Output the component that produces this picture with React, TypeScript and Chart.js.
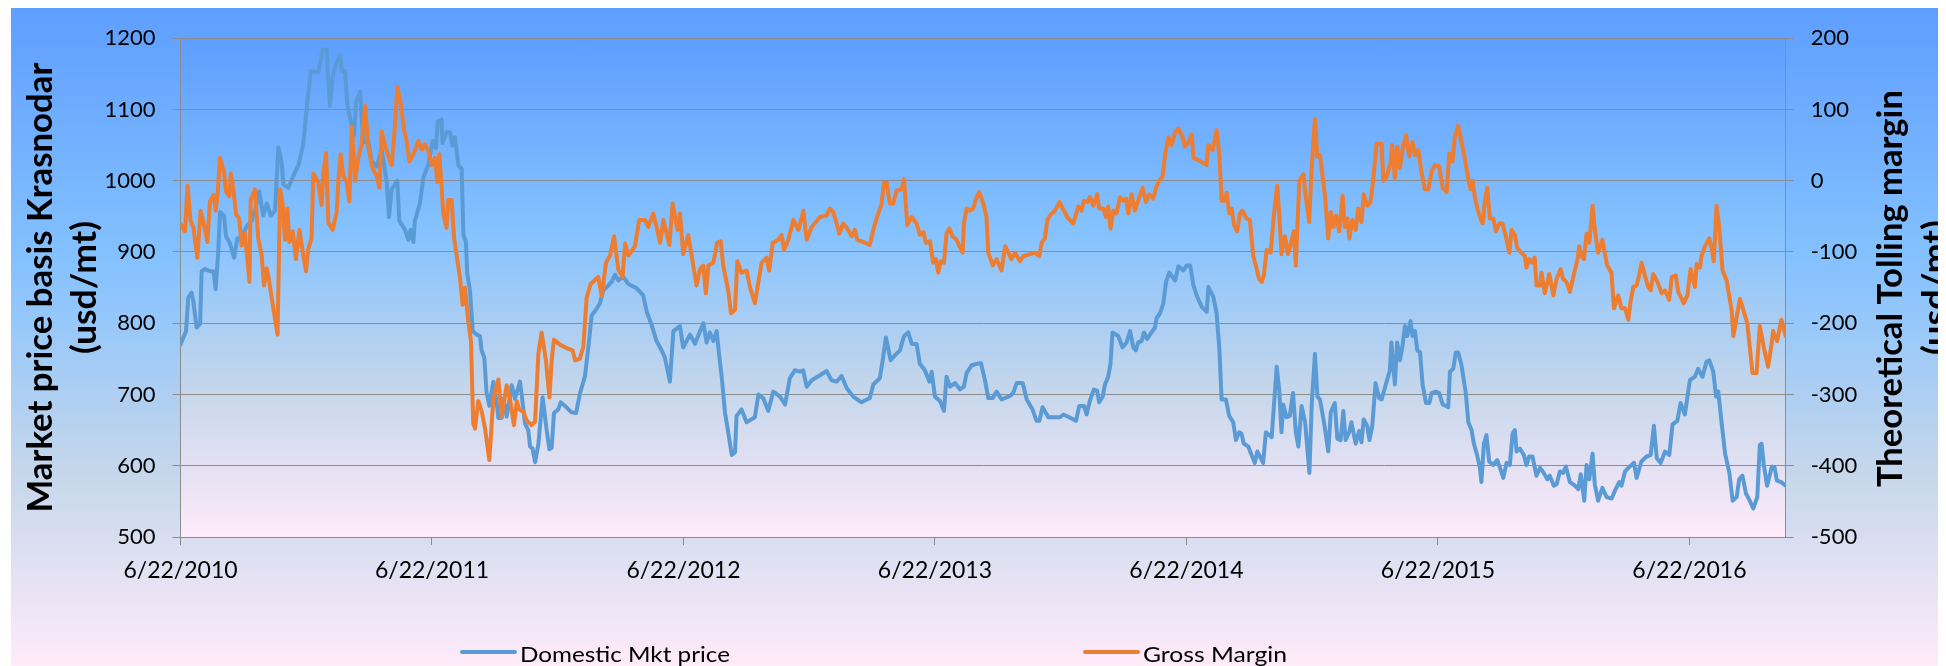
import React, { useEffect, useRef } from 'react';
import { Chart, registerables } from 'chart.js';

Chart.register(...registerables);

// ---- axis / labels ----
const tickYears = [0, 1, 2, 3, 4, 5, 6];
const tickLabels = ['6/22/2010', '6/22/2011', '6/22/2012', '6/22/2013', '6/22/2014', '6/22/2015', '6/22/2016'];
const xMaxYears = 6.383; // years after 6/22/2010 (about Nov 2016)
const seriesNames = ['Domestic Mkt price', 'Gross Margin'];
const leftTitle = ['Market price basis Krasnodar', '(usd/mt)'];
const rightTitle = ['Theoretical Tolling margin', '(usd/mt)'];

// ---- Domestic Mkt price (left axis, usd/mt); x = years since 6/22/2010 ----
const domesticYears = [
  0.000, 0.022, 0.031, 0.044, 0.051, 0.064, 0.078, 0.084, 0.097, 0.117, 0.131, 0.140, 0.150, 0.157, 0.173, 0.181,
  0.197, 0.213, 0.226, 0.243, 0.263, 0.283, 0.300, 0.313, 0.329, 0.343, 0.359, 0.376, 0.389, 0.402, 0.409, 0.429,
  0.449, 0.469, 0.488, 0.504, 0.518, 0.548, 0.565, 0.581, 0.594, 0.605, 0.618, 0.634, 0.641, 0.654, 0.663, 0.681,
  0.690, 0.698, 0.714, 0.727, 0.747, 0.760, 0.780, 0.800, 0.820, 0.829, 0.840, 0.862, 0.870, 0.893, 0.906, 0.915,
  0.926, 0.932, 0.952, 0.966, 0.985, 1.003, 1.016, 1.023, 1.038, 1.042, 1.058, 1.072, 1.081, 1.091, 1.105, 1.118,
  1.125, 1.135, 1.140, 1.151, 1.162, 1.178, 1.191, 1.197, 1.208, 1.217, 1.228, 1.244, 1.257, 1.264, 1.277, 1.284,
  1.297, 1.317, 1.330, 1.350, 1.357, 1.370, 1.383, 1.390, 1.400, 1.410, 1.423, 1.440, 1.456, 1.467, 1.476, 1.485,
  1.502, 1.512, 1.535, 1.555, 1.573, 1.588, 1.608, 1.622, 1.635, 1.652, 1.668, 1.681, 1.701, 1.714, 1.728, 1.741,
  1.761, 1.781, 1.814, 1.840, 1.854, 1.873, 1.893, 1.913, 1.926, 1.946, 1.960, 1.986, 1.999, 2.026, 2.046, 2.066,
  2.079, 2.092, 2.105, 2.119, 2.132, 2.142, 2.152, 2.165, 2.178, 2.192, 2.205, 2.211, 2.231, 2.251, 2.284, 2.298,
  2.317, 2.337, 2.357, 2.384, 2.404, 2.423, 2.443, 2.463, 2.476, 2.490, 2.510, 2.543, 2.569, 2.589, 2.609, 2.629,
  2.649, 2.675, 2.708, 2.741, 2.755, 2.781, 2.794, 2.805, 2.824, 2.841, 2.861, 2.877, 2.894, 2.908, 2.927, 2.940,
  2.960, 2.978, 2.987, 3.000, 3.020, 3.036, 3.046, 3.060, 3.080, 3.100, 3.115, 3.126, 3.146, 3.166, 3.183, 3.199,
  3.212, 3.230, 3.245, 3.265, 3.299, 3.311, 3.325, 3.349, 3.365, 3.388, 3.404, 3.415, 3.428, 3.451, 3.477, 3.497,
  3.511, 3.534, 3.561, 3.574, 3.593, 3.603, 3.616, 3.632, 3.645, 3.653, 3.667, 3.676, 3.689, 3.698, 3.706, 3.729,
  3.746, 3.762, 3.776, 3.789, 3.799, 3.808, 3.822, 3.831, 3.844, 3.855, 3.875, 3.881, 3.895, 3.908, 3.919, 3.932,
  3.955, 3.968, 3.988, 4.001, 4.015, 4.028, 4.043, 4.061, 4.081, 4.087, 4.107, 4.120, 4.131, 4.140, 4.157, 4.170,
  4.186, 4.197, 4.210, 4.219, 4.228, 4.246, 4.259, 4.272, 4.282, 4.295, 4.305, 4.316, 4.339, 4.359, 4.369, 4.378,
  4.385, 4.398, 4.411, 4.424, 4.435, 4.445, 4.458, 4.472, 4.489, 4.498, 4.511, 4.521, 4.531, 4.547, 4.564, 4.574,
  4.590, 4.600, 4.613, 4.624, 4.633, 4.647, 4.656, 4.673, 4.687, 4.696, 4.705, 4.719, 4.728, 4.739, 4.752, 4.766,
  4.776, 4.809, 4.815, 4.829, 4.838, 4.849, 4.859, 4.869, 4.878, 4.891, 4.899, 4.909, 4.918, 4.929, 4.939, 4.953,
  4.966, 4.975, 4.992, 5.005, 5.019, 5.032, 5.041, 5.048, 5.061, 5.071, 5.081, 5.094, 5.103, 5.111, 5.121, 5.134,
  5.143, 5.156, 5.167, 5.173, 5.183, 5.193, 5.204, 5.220, 5.236, 5.247, 5.260, 5.273, 5.286, 5.297, 5.306, 5.313,
  5.326, 5.342, 5.352, 5.363, 5.376, 5.392, 5.406, 5.421, 5.435, 5.445, 5.461, 5.472, 5.485, 5.498, 5.509, 5.525,
  5.545, 5.558, 5.568, 5.582, 5.591, 5.602, 5.615, 5.624, 5.637, 5.654, 5.671, 5.691, 5.704, 5.721, 5.730, 5.744,
  5.763, 5.780, 5.790, 5.809, 5.830, 5.846, 5.859, 5.870, 5.886, 5.903, 5.920, 5.933, 5.952, 5.965, 5.982, 6.002,
  6.022, 6.035, 6.052, 6.068, 6.079, 6.095, 6.106, 6.115, 6.128, 6.142, 6.159, 6.172, 6.188, 6.198, 6.211, 6.225,
  6.240, 6.254, 6.270, 6.280, 6.287, 6.296, 6.309, 6.328, 6.339, 6.348, 6.365, 6.383,
];
const domesticPrice = [
  770, 789, 836, 843, 831, 794, 799, 873, 876, 873, 873, 848, 900, 956, 951, 922,
  912, 892, 919, 921, 936, 944, 963, 985, 951, 968, 951, 958, 1047, 1027, 995, 990,
  1007, 1022, 1051, 1110, 1154, 1152, 1184, 1184, 1105, 1145, 1164, 1176, 1154, 1154, 1108, 1076,
  1064, 1110, 1125, 1054, 1056, 1027, 1020, 1044, 998, 949, 988, 1000, 944, 931, 917, 931,
  914, 944, 968, 1005, 1022, 1056, 1046, 1083, 1086, 1053, 1068, 1068, 1049, 1061, 1022, 1017,
  924, 914, 870, 846, 789, 784, 782, 762, 752, 703, 684, 718, 689, 667, 667, 694,
  669, 713, 694, 718, 699, 659, 650, 627, 624, 605, 630, 696, 650, 623, 625, 674,
  679, 689, 682, 675, 674, 701, 725, 767, 811, 819, 828, 846, 853, 858, 868, 860,
  865, 855, 849, 839, 816, 798, 775, 762, 752, 718, 789, 796, 766, 784, 771, 789,
  800, 773, 787, 775, 789, 755, 725, 675, 647, 615, 619, 670, 679, 661, 668, 700,
  695, 677, 704, 697, 686, 723, 734, 732, 734, 711, 720, 727, 733, 720, 718, 726,
  709, 697, 689, 695, 714, 723, 752, 780, 748, 755, 762, 782, 787, 771, 771, 743,
  734, 718, 732, 697, 691, 677, 725, 711, 716, 707, 711, 730, 741, 743, 744, 720,
  695, 695, 704, 693, 698, 702, 716, 716, 693, 679, 663, 663, 682, 668, 668, 668,
  672, 668, 663, 684, 684, 672, 691, 707, 705, 689, 697, 714, 725, 743, 787, 782,
  766, 773, 789, 766, 762, 773, 775, 787, 778, 784, 794, 807, 814, 828, 858, 871,
  860, 880, 874, 881, 881, 853, 837, 823, 816, 851, 837, 814, 764, 693, 693, 670,
  661, 636, 647, 645, 631, 627, 615, 604, 620, 611, 604, 647, 640, 739, 707, 647,
  686, 668, 670, 702, 647, 627, 684, 661, 590, 684, 757, 697, 693, 661, 620, 675,
  688, 638, 636, 677, 636, 647, 661, 631, 649, 633, 665, 656, 636, 656, 716, 695,
  693, 734, 773, 714, 773, 748, 768, 796, 782, 803, 782, 789, 762, 759, 714, 688,
  688, 702, 704, 702, 686, 684, 682, 732, 736, 759, 759, 741, 720, 702, 661, 650,
  631, 615, 597, 577, 631, 643, 606, 601, 608, 597, 583, 604, 601, 645, 650, 620,
  624, 615, 601, 613, 613, 586, 597, 590, 581, 586, 572, 574, 592, 590, 599, 577,
  572, 567, 588, 551, 601, 581, 617, 574, 551, 569, 556, 554, 565, 577, 572, 592,
  599, 604, 583, 606, 613, 615, 656, 611, 604, 620, 615, 658, 663, 688, 672, 720,
  725, 736, 725, 746, 748, 732, 697, 704, 661, 617, 590, 551, 556, 581, 586, 561,
  551, 540, 556, 629, 631, 601, 572, 599, 597, 579, 577, 572,
];

// ---- Gross Margin (right axis, usd/mt); x = years since 6/22/2010 ----
const marginYears = [
  0.000, 0.018, 0.028, 0.040, 0.051, 0.067, 0.080, 0.093, 0.107, 0.117, 0.131, 0.140, 0.148, 0.157, 0.173, 0.181,
  0.194, 0.200, 0.210, 0.221, 0.234, 0.243, 0.256, 0.266, 0.274, 0.279, 0.296, 0.309, 0.323, 0.332, 0.343, 0.353,
  0.369, 0.386, 0.396, 0.406, 0.416, 0.425, 0.433, 0.446, 0.459, 0.473, 0.486, 0.499, 0.508, 0.521, 0.528, 0.548,
  0.561, 0.568, 0.579, 0.588, 0.605, 0.621, 0.628, 0.637, 0.647, 0.661, 0.671, 0.681, 0.694, 0.707, 0.720, 0.734,
  0.747, 0.764, 0.780, 0.791, 0.800, 0.809, 0.822, 0.840, 0.853, 0.862, 0.876, 0.889, 0.899, 0.910, 0.926, 0.946,
  0.959, 0.972, 0.985, 0.999, 1.012, 1.021, 1.029, 1.038, 1.045, 1.058, 1.065, 1.078, 1.088, 1.098, 1.111, 1.122,
  1.131, 1.145, 1.155, 1.164, 1.171, 1.184, 1.198, 1.211, 1.228, 1.244, 1.264, 1.277, 1.297, 1.310, 1.326, 1.337,
  1.347, 1.363, 1.376, 1.396, 1.410, 1.423, 1.436, 1.453, 1.467, 1.476, 1.485, 1.509, 1.536, 1.559, 1.569, 1.588,
  1.602, 1.615, 1.631, 1.661, 1.675, 1.692, 1.708, 1.724, 1.741, 1.758, 1.768, 1.781, 1.807, 1.824, 1.847, 1.860,
  1.880, 1.893, 1.907, 1.920, 1.944, 1.957, 1.976, 1.986, 1.999, 2.019, 2.039, 2.052, 2.066, 2.079, 2.089, 2.099,
  2.119, 2.134, 2.148, 2.158, 2.178, 2.189, 2.205, 2.214, 2.231, 2.251, 2.264, 2.284, 2.298, 2.311, 2.331, 2.341,
  2.355, 2.377, 2.390, 2.400, 2.417, 2.437, 2.457, 2.477, 2.490, 2.510, 2.543, 2.569, 2.583, 2.596, 2.609, 2.620,
  2.635, 2.651, 2.669, 2.682, 2.691, 2.708, 2.741, 2.755, 2.768, 2.788, 2.797, 2.808, 2.821, 2.834, 2.847, 2.867,
  2.877, 2.890, 2.907, 2.927, 2.940, 2.954, 2.964, 2.980, 2.993, 3.004, 3.013, 3.023, 3.036, 3.046, 3.057, 3.070,
  3.086, 3.100, 3.110, 3.115, 3.126, 3.139, 3.152, 3.166, 3.176, 3.192, 3.205, 3.212, 3.230, 3.245, 3.265, 3.279,
  3.292, 3.304, 3.318, 3.338, 3.351, 3.378, 3.398, 3.415, 3.424, 3.437, 3.447, 3.457, 3.477, 3.495, 3.508, 3.530,
  3.550, 3.570, 3.583, 3.592, 3.606, 3.616, 3.630, 3.645, 3.653, 3.669, 3.680, 3.689, 3.698, 3.709, 3.722, 3.736,
  3.749, 3.760, 3.769, 3.782, 3.795, 3.808, 3.826, 3.839, 3.852, 3.868, 3.879, 3.892, 3.905, 3.915, 3.928, 3.941,
  3.955, 3.968, 3.985, 3.994, 4.008, 4.021, 4.028, 4.047, 4.067, 4.080, 4.087, 4.104, 4.120, 4.131, 4.140, 4.150,
  4.160, 4.170, 4.180, 4.189, 4.202, 4.213, 4.223, 4.239, 4.252, 4.266, 4.276, 4.289, 4.299, 4.308, 4.319, 4.335,
  4.347, 4.361, 4.369, 4.378, 4.392, 4.404, 4.414, 4.427, 4.435, 4.449, 4.465, 4.475, 4.488, 4.498, 4.511, 4.520,
  4.531, 4.551, 4.564, 4.574, 4.584, 4.595, 4.608, 4.621, 4.630, 4.640, 4.648, 4.660, 4.673, 4.683, 4.696, 4.705,
  4.719, 4.732, 4.743, 4.756, 4.776, 4.783, 4.796, 4.812, 4.818, 4.829, 4.838, 4.849, 4.860, 4.873, 4.886, 4.899,
  4.909, 4.922, 4.935, 4.948, 4.962, 4.975, 4.988, 5.005, 5.019, 5.035, 5.045, 5.058, 5.067, 5.081, 5.094, 5.108,
  5.121, 5.130, 5.138, 5.147, 5.157, 5.167, 5.178, 5.187, 5.196, 5.207, 5.220, 5.231, 5.244, 5.257, 5.270, 5.284,
  5.293, 5.306, 5.315, 5.332, 5.346, 5.352, 5.363, 5.376, 5.385, 5.392, 5.406, 5.412, 5.425, 5.443, 5.459, 5.472,
  5.488, 5.498, 5.511, 5.525, 5.541, 5.555, 5.562, 5.571, 5.581, 5.591, 5.602, 5.615, 5.624, 5.637, 5.654, 5.673,
  5.690, 5.700, 5.717, 5.730, 5.744, 5.757, 5.766, 5.777, 5.790, 5.800, 5.810, 5.823, 5.836, 5.846, 5.856, 5.873,
  5.890, 5.903, 5.920, 5.930, 5.946, 5.956, 5.978, 5.992, 6.005, 6.022, 6.029, 6.042, 6.048, 6.062, 6.079, 6.088,
  6.097, 6.108, 6.118, 6.132, 6.148, 6.159, 6.168, 6.175, 6.188, 6.201, 6.215, 6.230, 6.241, 6.251, 6.267, 6.280,
  6.296, 6.313, 6.327, 6.333, 6.349, 6.366, 6.383,
];
const marginValue = [
  -61, -71, -7, -56, -66, -108, -42, -61, -86, -29, -20, -42, -17, 32, 12, -15,
  -22, 10, -12, -47, -54, -91, -74, -110, -142, -27, -12, -81, -105, -147, -123, -142,
  -179, -216, -12, -32, -83, -39, -86, -71, -110, -69, -100, -127, -96, -81, 10, -2,
  -34, 10, 39, -59, -69, -44, 2, 37, 7, -2, -29, 76, 0, 32, 51, 105,
  47, 17, 7, -10, 69, 56, 39, 22, 78, 132, 108, 71, 56, 27, 37, 56,
  44, 51, 42, 22, 32, -2, 37, -7, -47, -66, -27, -27, -81, -105, -135, -174,
  -150, -199, -225, -341, -348, -309, -324, -348, -392, -306, -279, -331, -287, -306, -343, -309,
  -321, -324, -336, -343, -338, -243, -213, -252, -304, -252, -223, -230, -235, -238, -252, -250,
  -233, -164, -145, -135, -162, -115, -105, -78, -125, -135, -88, -105, -92, -55, -55, -65,
  -46, -65, -87, -55, -90, -32, -69, -46, -103, -76, -119, -147, -124, -119, -158, -119,
  -115, -87, -85, -119, -154, -186, -181, -113, -129, -126, -149, -172, -142, -115, -108, -126,
  -87, -83, -76, -97, -83, -55, -69, -42, -83, -65, -51, -49, -39, -44, -60, -74,
  -60, -67, -78, -69, -83, -85, -90, -69, -53, -32, -3, -3, -32, -32, -14, -12,
  2, -62, -51, -60, -76, -72, -87, -85, -115, -110, -129, -113, -115, -74, -67, -78,
  -83, -94, -101, -60, -39, -42, -39, -23, -16, -32, -51, -101, -119, -110, -126, -92,
  -101, -110, -101, -113, -106, -103, -101, -106, -87, -81, -55, -49, -42, -30, -39, -53,
  -60, -36, -42, -28, -30, -23, -35, -19, -39, -39, -51, -36, -67, -42, -46, -23,
  -28, -25, -46, -19, -42, -28, -10, -30, -19, -25, -10, 0, 6, 36, 61, 50,
  68, 73, 61, 48, 54, 65, 32, 29, 25, 22, 50, 43, 71, 36, -28, -28,
  -17, -46, -39, -62, -71, -46, -42, -53, -55, -106, -119, -138, -142, -133, -97, -101,
  -51, -7, -46, -103, -78, -103, -90, -71, -119, 0, 9, -23, -58, 18, 87, 34,
  36, -21, -81, -44, -65, -49, -71, -21, -65, -53, -81, -55, -69, -39, -58, -19,
  -35, -30, 2, 52, 52, 0, 6, 25, 50, 4, 48, 18, 45, 64, 34, 54,
  36, 43, 11, -12, -12, 13, 22, 20, -10, -16, 38, 27, 61, 77, 54, 29,
  2, -12, 0, -23, -39, -51, -60, -28, -10, -53, -53, -71, -60, -60, -78, -101,
  -69, -76, -94, -101, -106, -122, -110, -115, -108, -147, -147, -129, -158, -131, -161, -138,
  -124, -138, -142, -156, -131, -110, -92, -106, -110, -74, -87, -35, -69, -101, -83, -119,
  -129, -179, -161, -179, -179, -195, -170, -149, -147, -133, -115, -133, -149, -154, -131, -142,
  -158, -154, -167, -135, -133, -156, -172, -161, -124, -149, -117, -122, -106, -92, -81, -94,
  -113, -35, -63, -126, -140, -163, -182, -218, -191, -166, -182, -200, -236, -270, -270, -204,
  -234, -261, -229, -211, -225, -195, -218,
];

const BLUE = '#5B9BD5';
const ORANGE = '#ED7D31';
const GRID = '#8C8C8C';
const FONT = 'Lato';

function daybreak(ctx: CanvasRenderingContext2D, y0: number, y1: number) {
  const g = ctx.createLinearGradient(0, y0, 0, y1);
  g.addColorStop(0, '#5E9EFF');
  g.addColorStop(0.39, '#85C2FF');
  g.addColorStop(0.7, '#C4D6EB');
  g.addColorStop(1, '#FFEBFA');
  return g;
}

function fitText(ctx: CanvasRenderingContext2D, text: string, x: number, y: number, rot: number, len: number, font: string, align: CanvasTextAlign) {
  ctx.save();
  ctx.translate(x, y);
  ctx.rotate(rot);
  ctx.font = font;
  const w = ctx.measureText(text).width;
  ctx.scale(len / w, 1);
  ctx.textAlign = align;
  ctx.textBaseline = 'alphabetic';
  ctx.fillStyle = '#000';
  ctx.fillText(text, 0, 0);
  ctx.restore();
}

const backgroundPlugin = {
  id: 'daybreakBackground',
  beforeDraw(chart: any) {
    const { ctx, width, height, chartArea: a } = chart;
    ctx.save();
    ctx.fillStyle = daybreak(ctx, 0, height);
    ctx.fillRect(0, 0, width, height);
    ctx.fillStyle = daybreak(ctx, a.top, a.bottom);
    ctx.fillRect(a.left, a.top, a.right - a.left, a.bottom - a.top);
    ctx.restore();
  },
};

const decorPlugin = {
  id: 'titlesAndLegend',
  afterDraw(chart: any) {
    const { ctx, chartArea: a } = chart;
    const cy = (a.top + a.bottom) / 2;
    const bold = `bold 34px ${FONT}`;
    // left axis title
    fitText(ctx, leftTitle[0], 41, cy, -Math.PI / 2, 450, bold, 'center');
    fitText(ctx, leftTitle[1], 85, cy, -Math.PI / 2, 133, bold, 'center');
    // right axis title
    fitText(ctx, rightTitle[0], 1891, cy + 1, -Math.PI / 2, 397, bold, 'center');
    fitText(ctx, rightTitle[1], 1936, cy, -Math.PI / 2, 135, bold, 'center');
    // legend
    const items = [
      { color: BLUE, name: seriesNames[0], x0: 451, x1: 504, tx: 509, tw: 210 },
      { color: ORANGE, name: seriesNames[1], x0: 1074, x1: 1127, tx: 1132, tw: 144 },
    ];
    const ly = 644;
    items.forEach((it) => {
      ctx.save();
      ctx.strokeStyle = it.color;
      ctx.lineWidth = 4;
      ctx.lineCap = 'round';
      ctx.beginPath();
      ctx.moveTo(it.x0, ly);
      ctx.lineTo(it.x1, ly);
      ctx.stroke();
      ctx.restore();
      fitText(ctx, it.name, it.tx, 654, 0, it.tw, `21px ${FONT}`, 'left');
    });
  },
};

export default function App() {
  const canvasRef = useRef<HTMLCanvasElement | null>(null);

  useEffect(() => {
    const canvas = canvasRef.current;
    if (!canvas) return;
    const chart = new Chart(canvas, {
      type: 'line',
      data: {
        datasets: [
          {
            label: seriesNames[1],
            data: marginYears.map((x, i) => ({ x, y: marginValue[i] })),
            yAxisID: 'y2',
            borderColor: ORANGE,
            borderWidth: 4,
            pointRadius: 0,
            tension: 0,
            borderJoinStyle: 'round',
            borderCapStyle: 'round',
            order: 0,
          },
          {
            label: seriesNames[0],
            data: domesticYears.map((x, i) => ({ x, y: domesticPrice[i] })),
            yAxisID: 'y',
            borderColor: BLUE,
            borderWidth: 4,
            pointRadius: 0,
            tension: 0,
            borderJoinStyle: 'round',
            borderCapStyle: 'round',
            order: 1,
          },
        ],
      },
      options: {
        animation: false,
        responsive: false,
        events: [],
        layout: { padding: { top: 19.3, left: 0, right: 0, bottom: 0 } },
        plugins: { legend: { display: false }, tooltip: { enabled: false } },
        scales: {
          x: {
            type: 'linear',
            min: 0,
            max: xMaxYears,
            afterBuildTicks: (s: any) => {
              s.ticks = tickYears.map((v) => ({ value: v }));
            },
            afterFit: (s: any) => {
              s.height = 129;
            },
            ticks: {
              callback: (_v: any, i: number) => tickLabels[i],
              font: { family: FONT, size: 23 },
              color: '#000',
              padding: 12,
              maxRotation: 0,
              autoSkip: false,
            },
            grid: { drawOnChartArea: false, drawTicks: true, tickLength: 8, color: GRID },
            border: { display: true, color: GRID, width: 1 },
          },
          y: {
            position: 'left',
            min: 500,
            max: 1200,
            afterFit: (s: any) => {
              s.width = 169.5;
            },
            ticks: {
              stepSize: 100,
              callback: (v: any) => String(v),
              font: { family: FONT, size: 22 },
              color: '#000',
              padding: 17,
            },
            grid: { color: GRID, tickLength: 8, lineWidth: 1 },
            border: { display: true, color: GRID, width: 1 },
          },
          y2: {
            position: 'right',
            min: -500,
            max: 200,
            afterFit: (s: any) => {
              s.width = 160.3;
            },
            ticks: {
              stepSize: 100,
              callback: (v: any) => String(v),
              font: { family: FONT, size: 22 },
              color: '#000',
              padding: 17,
            },
            grid: { drawOnChartArea: false, tickLength: 8, color: GRID },
            border: { display: true, color: GRID, width: 1 },
          },
        },
      },
      plugins: [backgroundPlugin, decorPlugin],
    } as any);
    return () => chart.destroy();
  }, []);

  return (
    <div style={{ marginLeft: 3, width: 1935, height: 658 }}>
      <canvas ref={canvasRef} width={1935} height={658} style={{ display: 'block', width: 1935, height: 658 }} />
    </div>
  );
}
